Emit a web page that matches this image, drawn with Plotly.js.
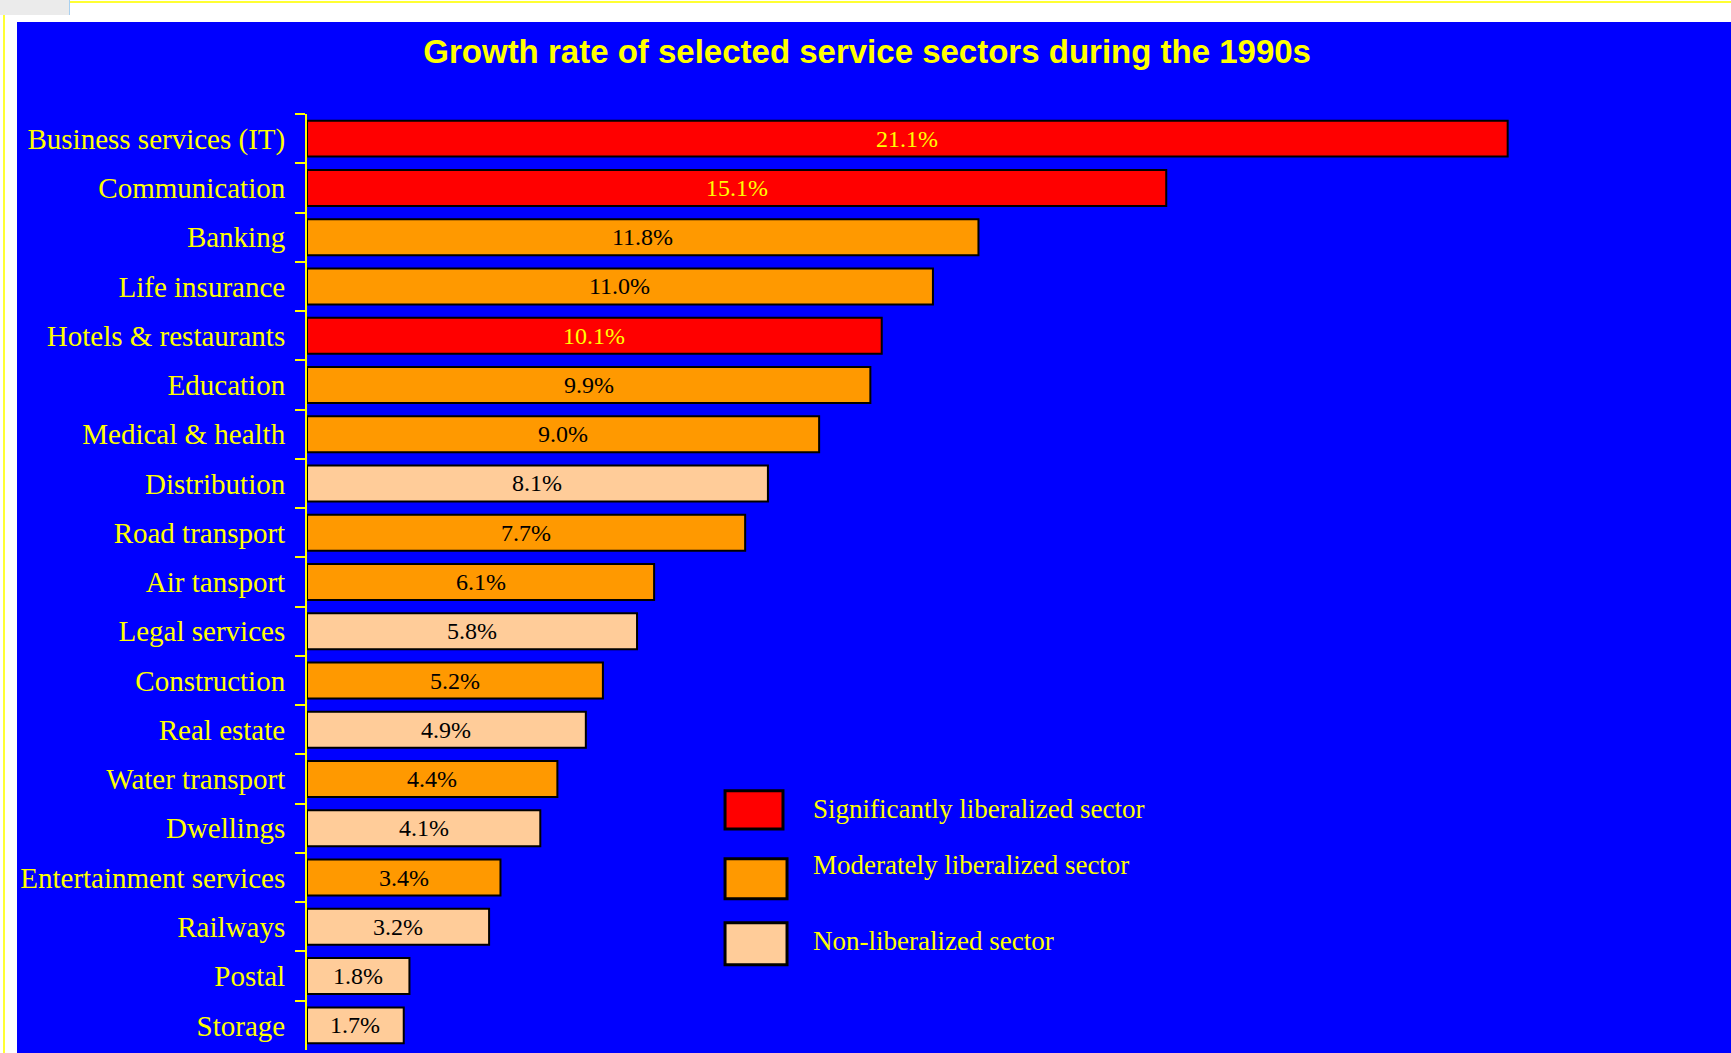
<!DOCTYPE html>
<html>
<head>
<meta charset="utf-8">
<script src="https://cdn.plot.ly/plotly-3.0.1.min.js"></script>
<style>
  html, body { margin: 0; padding: 0; background: #ffffff; width: 1731px; height: 1053px; overflow: hidden; position: relative; }
  #topline { position: absolute; left: 3px; top: 1px; width: 1728px; height: 2px; background: #ffff33; }
  #leftline { position: absolute; left: 3px; top: 1px; width: 2px; height: 1052px; background: #ffff33; }
  #corner { position: absolute; left: 0; top: 0; width: 69px; height: 15px; background: #ebebeb; border-right: 1px solid #a8d0f0; }
  #chart { position: absolute; left: 17px; top: 22px; width: 1714px; height: 1031px; }
</style>
</head>
<body>
<div id="topline"></div>
<div id="leftline"></div>
<div id="corner"></div>
<div id="chart"></div>
<script>
// ---- data ----
const categories = [
  "Business services (IT)", "Communication", "Banking", "Life insurance",
  "Hotels & restaurants", "Education", "Medical & health", "Distribution",
  "Road transport", "Air tansport", "Legal services", "Construction",
  "Real estate", "Water transport", "Dwellings", "Entertainment services",
  "Railways", "Postal", "Storage"
];
const growthRates = [21.1, 15.1, 11.8, 11.0, 10.1, 9.9, 9.0, 8.1, 7.7, 6.1, 5.8, 5.2, 4.9, 4.4, 4.1, 3.4, 3.2, 1.8, 1.7];
// 0 = significantly, 1 = moderately, 2 = non-liberalized
const sectorGroup = [0, 0, 1, 1, 0, 1, 1, 2, 1, 1, 2, 1, 2, 1, 2, 1, 2, 2, 2];
const groupNames = ["Significantly liberalized sector", "Moderately liberalized sector", "Non-liberalized sector"];
const groupColors = ["#ff0000", "#ff9900", "#ffcc99"];
const groupTextColors = ["#ffff00", "#000000", "#000000"];
const chartTitle = "Growth rate of selected service sectors during the 1990s";

// ---- build ----
const serif = "Liberation Serif, Times New Roman, serif";
const barColors = sectorGroup.map(g => groupColors[g]);

const trace = {
  type: "bar",
  orientation: "h",
  x: growthRates,
  y: categories,
  marker: { color: barColors, line: { color: "#000000", width: 2 } },
  hoverinfo: "skip",
  showlegend: false
};

// value labels centred in each bar
const valueLabels = growthRates.map((v, i) => ({
  xref: "x", yref: "y", x: v / 2, y: categories[i],
  xanchor: "center", yanchor: "middle", showarrow: false,
  text: v.toFixed(1) + "%",
  font: { family: serif, size: 24, color: groupTextColors[sectorGroup[i]] }
}));

// custom legend (large boxes like the reference)
const legendBoxes = [
  { x0: 0.3001, x1: 0.3417, y0: 0.2361, y1: 0.2770 },
  { x0: 0.3001, x1: 0.3446, y0: 0.1616, y1: 0.2044 },
  { x0: 0.3001, x1: 0.3446, y0: 0.0911, y1: 0.1360 }
];
const legendTextY = [0.2575, 0.1976, 0.1165];
const shapes = legendBoxes.map((b, i) => ({
  type: "rect", xref: "paper", yref: "paper",
  x0: b.x0, x1: b.x1, y0: b.y0, y1: b.y1,
  fillcolor: groupColors[i], line: { color: "#000000", width: 3 }
}));
const legendLabels = groupNames.map((name, i) => ({
  xref: "paper", yref: "paper", x: 0.3618, y: legendTextY[i],
  xanchor: "left", yanchor: "middle", showarrow: false, text: name,
  font: { family: serif, size: 27, color: "#ffff00" }
}));

const layout = {
  width: 1714, height: 1031,
  paper_bgcolor: "#0000ff", plot_bgcolor: "#0000ff",
  margin: { l: 290, r: 31, t: 92, b: 3, pad: 0 },
  title: {
    text: chartTitle, xref: "container", yref: "container",
    x: 0.496, y: 0.971, xanchor: "center", yanchor: "middle",
    font: { family: "Liberation Sans, Arial, sans-serif", size: 33, color: "#ffff00", weight: "bold" }
  },
  bargap: 0.27,
  xaxis: { range: [0, 24.48], visible: false, showgrid: false, zeroline: false, fixedrange: true },
  yaxis: {
    type: "category", autorange: "reversed",
    showline: true, linecolor: "#ffff00", linewidth: 2,
    ticks: "outside", tickson: "boundaries", ticklen: 10, tickwidth: 2, tickcolor: "#ffff00",
    ticklabelstandoff: 14,
    showgrid: false, zeroline: false, fixedrange: true,
    tickfont: { family: serif, size: 29, color: "#ffff00" }
  },
  shapes: shapes,
  annotations: valueLabels.concat(legendLabels),
  showlegend: false
};

Plotly.newPlot("chart", [trace], layout, { displayModeBar: false, staticPlot: true });
</script>
</body>
</html>
